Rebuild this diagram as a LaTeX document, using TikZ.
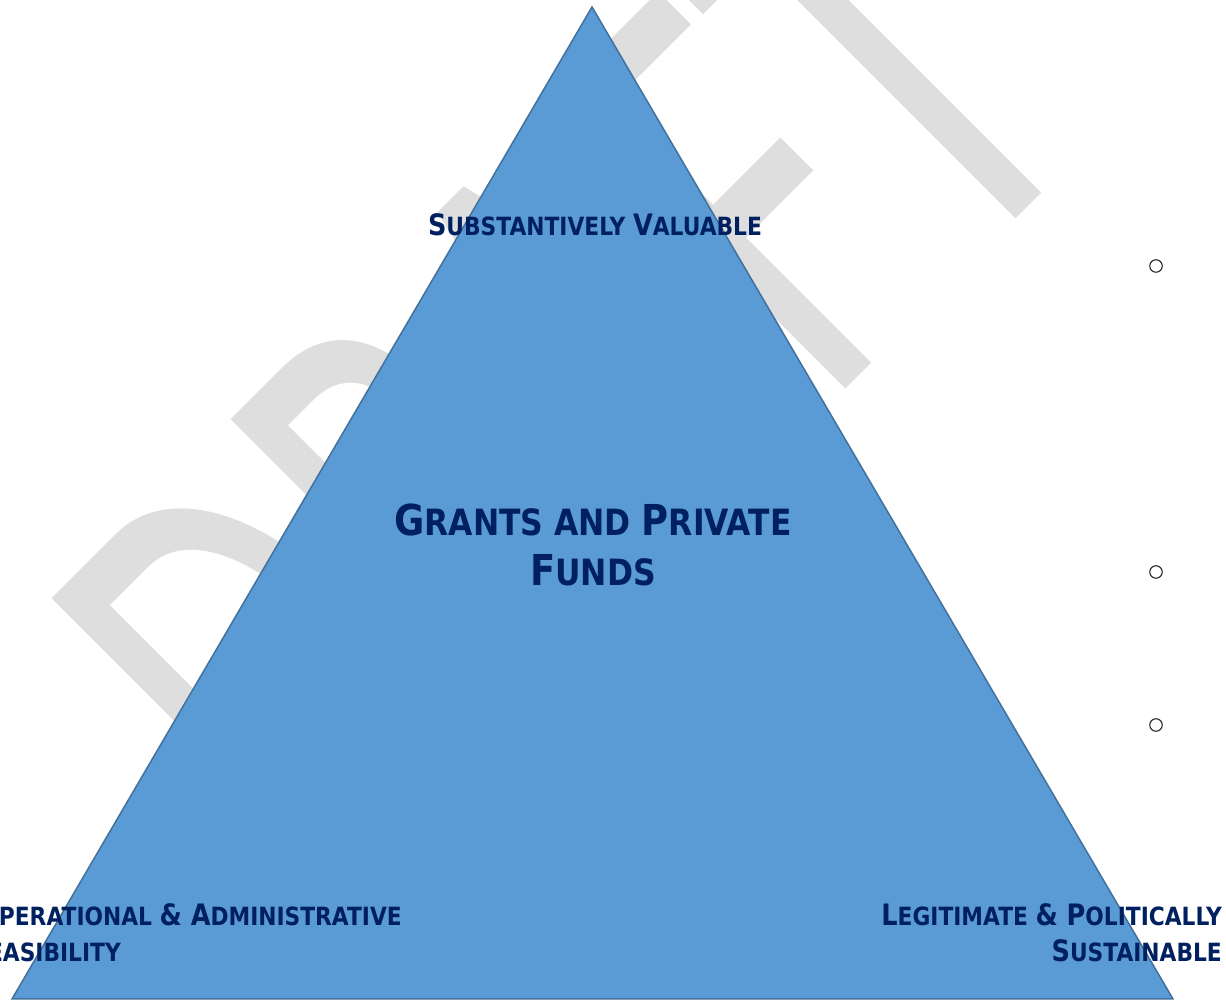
\documentclass[tikz,border=0pt]{standalone}
\usepackage{fontspec}
\setmainfont{DejaVu Sans}
\newfontfamily\wmfont{Carlito}
\newfontfamily\labfont[FakeStretch=0.867]{DejaVu Sans}
\definecolor{trifill}{HTML}{5B9BD5}
\definecolor{triedge}{HTML}{41719C}
\definecolor{navy}{HTML}{002060}
\definecolor{wm}{HTML}{DEDEDE}
\newcommand\Lb[1]{{\fontsize{29.5}{29.5}\selectfont #1}}
\newcommand\Ls[1]{{\fontsize{25.1}{29.5}\selectfont #1}}
\newcommand\Tb[1]{{\fontsize{42.6}{42.6}\selectfont #1}}
\newcommand\Ts[1]{{\fontsize{36.2}{42.6}\selectfont #1}}
\tikzset{
  lab/.style={inner sep=0pt, text=navy, font=\labfont\bfseries},
  triangle/.style={fill=trifill, draw=triedge, line width=1.5pt, line join=miter},
  bulletmark/.style={circle, draw=black!85, line width=1.1pt, inner sep=0pt, minimum size=12.5pt},
}
\begin{document}
\begin{tikzpicture}[x=1pt, y=1pt]
\useasboundingbox (0,0) rectangle (1226,1000);
\fill[white] (0,0) rectangle (1226,1000);
% watermark
\begin{scope}[shift={(617.5,382.5)}, rotate=45, xscale=0.634]
  \node[transform shape, anchor=base west, inner sep=0pt, text=wm] (wmk) at (-653,0)
    {\wmfont\fontsize{644}{644}\selectfont DRAFT};
\end{scope}
% triangle
\coordinate (apex) at (592,993);
\coordinate (bl) at (12,1);
\coordinate (br) at (1173,1);
\draw[triangle] (apex) -- (bl) -- (br) -- cycle;
% labels
\node[lab, anchor=base] (sv) at (595,764) {\Lb{S}\Ls{UBSTANTIVELY }\Lb{V}\Ls{ALUABLE}};
\node[lab, anchor=base] (gp1) at (593,464) {\Tb{G}\Ts{RANTS AND }\Tb{P}\Ts{RIVATE}};
\node[lab, anchor=base] (gp2) at (593,414) {\Tb{F}\Ts{UNDS}};
\node[lab, anchor=base east] (oa1) at (402,74) {\Lb{O}\Ls{PERATIONAL }\Lb{\& A}\Ls{DMINISTRATIVE}};
\node[lab, anchor=base east] (oa2) at (121,38) {\Lb{F}\Ls{EASIBILITY}};
\node[lab, anchor=base east] (lp1) at (1222,74) {\Lb{L}\Ls{EGITIMATE }\Lb{\& P}\Ls{OLITICALLY}};
\node[lab, anchor=base east] (lp2) at (1222,38) {\Lb{S}\Ls{USTAINABLE}};
% bullets
\node[bulletmark] (b1) at (1156,734) {};
\node[bulletmark] (b2) at (1156,428) {};
\node[bulletmark] (b3) at (1156,275) {};
\end{tikzpicture}
\end{document}
